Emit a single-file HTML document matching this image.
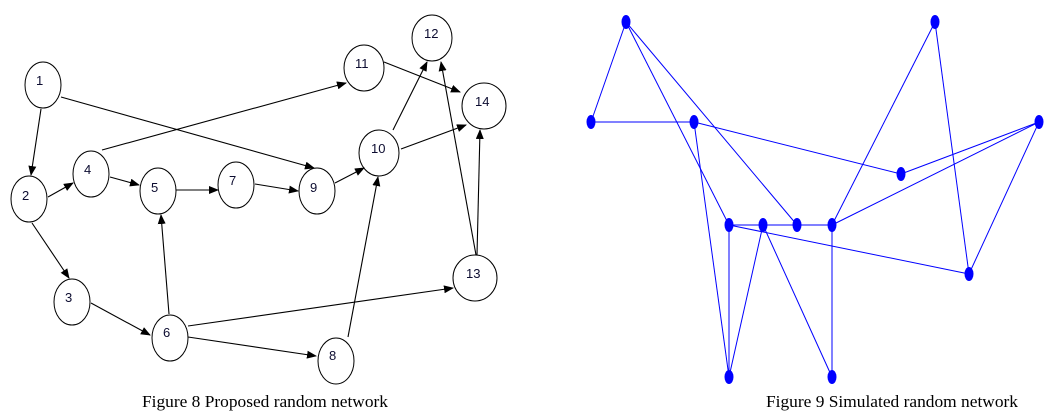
<!DOCTYPE html>
<html><head><meta charset="utf-8"><style>
html,body{margin:0;padding:0;background:#fff;}
svg{display:block}
.n{fill:#fff;stroke:#000;stroke-width:1}
.l{font-family:"Liberation Sans",sans-serif;font-size:13px;fill:#0c0c30}
.e{stroke:#000;stroke-width:1.1;marker-end:url(#ah)}
.b{stroke:#0000ff;stroke-width:1}
.cap{font-family:"Liberation Serif",serif;font-size:17px;fill:#000}
</style></head><body>
<svg width="1050" height="412" viewBox="0 0 1050 412" xmlns="http://www.w3.org/2000/svg">
<defs><marker id="ah" markerWidth="10" markerHeight="8" refX="9" refY="4" orient="auto" markerUnits="userSpaceOnUse"><path d="M0,0 L10,4 L0,8 z" fill="#000"/></marker></defs>
<g>
<ellipse class="n" cx="43" cy="85" rx="18" ry="23"/>
<ellipse class="n" cx="29" cy="199" rx="18" ry="23"/>
<ellipse class="n" cx="72" cy="302" rx="18" ry="23"/>
<ellipse class="n" cx="91" cy="174" rx="18" ry="23"/>
<ellipse class="n" cx="158" cy="191" rx="18" ry="23"/>
<ellipse class="n" cx="170" cy="338" rx="18" ry="23"/>
<ellipse class="n" cx="236" cy="185" rx="18" ry="23"/>
<ellipse class="n" cx="336" cy="361" rx="18" ry="23"/>
<ellipse class="n" cx="317" cy="191" rx="18" ry="23"/>
<ellipse class="n" cx="379" cy="153" rx="20" ry="23"/>
<ellipse class="n" cx="364" cy="68" rx="20" ry="23"/>
<ellipse class="n" cx="432" cy="38" rx="20" ry="23"/>
<ellipse class="n" cx="475" cy="278" rx="22" ry="23"/>
<ellipse class="n" cx="484" cy="106" rx="22" ry="23"/>
</g>
<g>
<line class="e" x1="41" y1="109" x2="31" y2="175"/>
<line class="e" x1="61" y1="97" x2="314" y2="168"/>
<line class="e" x1="48" y1="197" x2="73" y2="183"/>
<line class="e" x1="32" y1="223" x2="69" y2="278"/>
<line class="e" x1="102" y1="150" x2="346" y2="83"/>
<line class="e" x1="110" y1="177" x2="139" y2="185"/>
<line class="e" x1="176" y1="190" x2="218" y2="190"/>
<line class="e" x1="255" y1="184" x2="298" y2="191"/>
<line class="e" x1="335" y1="183" x2="364" y2="168"/>
<line class="e" x1="91" y1="303" x2="150" y2="335"/>
<line class="e" x1="169" y1="314" x2="161" y2="215"/>
<line class="e" x1="188" y1="326" x2="453" y2="288"/>
<line class="e" x1="188" y1="337" x2="316" y2="356"/>
<line class="e" x1="348" y1="337" x2="378" y2="177"/>
<line class="e" x1="393" y1="130" x2="427" y2="62"/>
<line class="e" x1="401" y1="149" x2="466" y2="125"/>
<line class="e" x1="384" y1="62" x2="460" y2="92"/>
<line class="e" x1="476" y1="255" x2="441" y2="62"/>
<line class="e" x1="477" y1="255" x2="480" y2="130"/>
</g>
<g class="l">
<text x="36" y="85">1</text>
<text x="22" y="200">2</text>
<text x="65" y="302">3</text>
<text x="84" y="174">4</text>
<text x="151" y="192">5</text>
<text x="163" y="337">6</text>
<text x="229" y="185">7</text>
<text x="329" y="360">8</text>
<text x="310" y="192">9</text>
<text x="371" y="153">10</text>
<text x="355" y="68">11</text>
<text x="424" y="38">12</text>
<text x="466" y="278">13</text>
<text x="475" y="106">14</text>
</g>
<text class="cap" x="142" y="407" textLength="246" lengthAdjust="spacingAndGlyphs">Figure 8 Proposed random network</text>

<g>
<line class="b" x1="626" y1="22" x2="591" y2="122"/>
<line class="b" x1="591" y1="122" x2="694" y2="122"/>
<line class="b" x1="626" y1="22" x2="729" y2="225"/>
<line class="b" x1="626" y1="22" x2="797" y2="225"/>
<line class="b" x1="694" y1="122" x2="901" y2="174"/>
<line class="b" x1="694" y1="122" x2="729" y2="377"/>
<line class="b" x1="901" y1="174" x2="1039" y2="122"/>
<line class="b" x1="729" y1="225" x2="832" y2="225"/>
<line class="b" x1="832" y1="225" x2="1039" y2="122"/>
<line class="b" x1="832" y1="225" x2="935" y2="22"/>
<line class="b" x1="935" y1="22" x2="969" y2="274"/>
<line class="b" x1="1039" y1="122" x2="969" y2="274"/>
<line class="b" x1="729" y1="225" x2="969" y2="274"/>
<line class="b" x1="729" y1="225" x2="729" y2="377"/>
<line class="b" x1="763" y1="225" x2="729" y2="377"/>
<line class="b" x1="763" y1="225" x2="832" y2="377"/>
<line class="b" x1="832" y1="225" x2="832" y2="377"/>
</g>
<g fill="#0000ff">
<ellipse cx="626" cy="22" rx="4.5" ry="7"/>
<ellipse cx="591" cy="122" rx="4.5" ry="7"/>
<ellipse cx="694" cy="122" rx="4.5" ry="7"/>
<ellipse cx="901" cy="174" rx="4.5" ry="7"/>
<ellipse cx="729" cy="225" rx="4.5" ry="7"/>
<ellipse cx="763" cy="225" rx="4.5" ry="7"/>
<ellipse cx="797" cy="225" rx="4.5" ry="7"/>
<ellipse cx="832" cy="225" rx="4.5" ry="7"/>
<ellipse cx="935" cy="22" rx="4.5" ry="7"/>
<ellipse cx="1039" cy="122" rx="4.5" ry="7"/>
<ellipse cx="969" cy="274" rx="4.5" ry="7"/>
<ellipse cx="729" cy="377" rx="4.5" ry="7"/>
<ellipse cx="832" cy="377" rx="4.5" ry="7"/>
</g>
<text class="cap" x="766" y="407" textLength="252" lengthAdjust="spacingAndGlyphs">Figure 9 Simulated random network</text>
</svg>
</body></html>
